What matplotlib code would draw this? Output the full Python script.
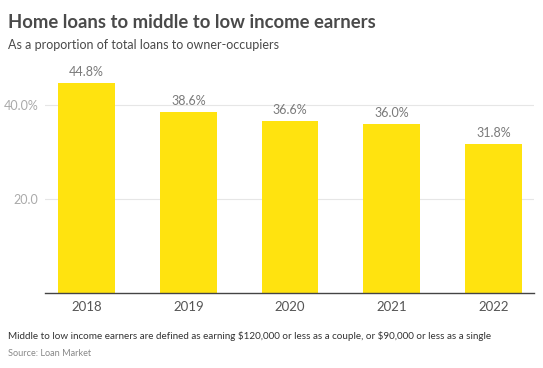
import matplotlib
matplotlib.use("Agg")
import matplotlib.pyplot as plt

years = ["2018", "2019", "2020", "2021", "2022"]
values = [44.8, 38.6, 36.6, 36.0, 31.8]
value_labels = ["44.8%", "38.6%", "36.6%", "36.0%", "31.8%"]
y_ticks = [20, 40]
y_tick_labels = ["20.0", "40.0%"]

plt.rcParams['font.family'] = ['Lato', 'DejaVu Sans']
plt.rcParams['text.parse_math'] = False

fig = plt.figure(figsize=(5.43, 3.68), dpi=100)
ax = fig.add_axes([45/543, 1-293/368, (534-45)/543, (293-60)/368])

x = list(range(len(years)))
ax.bar(x, values, width=0.56, color="#FFE30F", zorder=2)
ax.set_xlim(-0.41, 4.40)
ax.set_ylim(0, 49.6)

for xi, v, lab in zip(x, values, value_labels):
    ax.text(xi, v + 1.0, lab, ha="center", va="bottom", fontsize=9, color="#7a7a7a")

ax.set_yticks(y_ticks)
ax.set_yticklabels(y_tick_labels, fontsize=9, color="#aaaaaa")
ax.set_xticks(x)
ax.set_xticklabels(years, fontsize=9.5, color="#555555")
ax.tick_params(axis="y", length=0, pad=5)
ax.tick_params(axis="x", length=0, pad=6)
ax.grid(axis="y", color="#e6e6e6", linewidth=0.8, zorder=0)
for s in ["top", "right", "left"]:
    ax.spines[s].set_visible(False)
ax.spines["bottom"].set_color("#444444")
ax.spines["bottom"].set_linewidth(1.0)
ax.spines["bottom"].set_zorder(3)

fig.text(8/543, 1-22/368, "Home loans to middle to low income earners", fontsize=13.3,
         fontweight="bold", color="#4a4a4a", va="center", ha="left")
fig.text(8/543, 1-45/368, "As a proportion of total loans to owner-occupiers", fontsize=9,
         color="#4a4a4a", va="center", ha="left")
fig.text(8/543, 1-336/368, "Middle to low income earners are defined as earning $120,000 or less as a couple, or $90,000 or less as a single",
         fontsize=7.1, color="#333333", va="center", ha="left")
fig.text(8/543, 1-353/368, "Source: Loan Market", fontsize=6.6, color="#888888", va="center", ha="left")

fig.savefig("out.png", dpi=100)
